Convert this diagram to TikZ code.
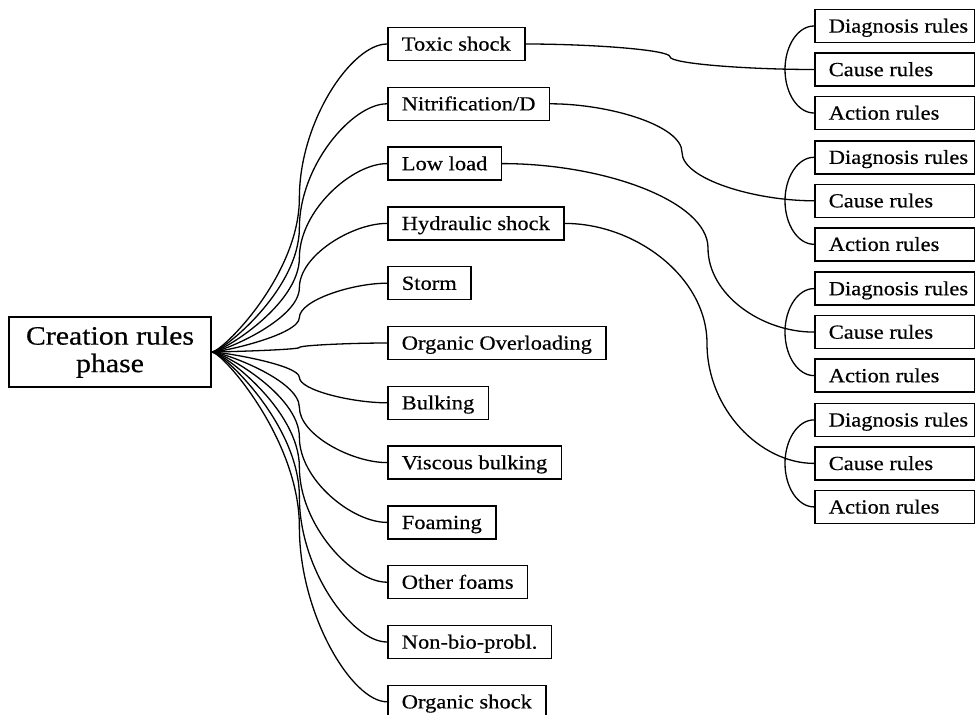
\documentclass[tikz,border=0pt]{standalone}
\usepackage{fontspec}
\setmainfont{Liberation Serif}[FakeStretch=1.125, FakeBold=0.5]
\usetikzlibrary{calc}

\tikzset{
  % quarter-elliptic piece: leaves the start horizontally, reaches the target vertically
  hv/.style n args={2}{to path={let \p1=(\tikztostart), \p2=(\tikztotarget) in
     .. controls ($(\p1)+({#1*(\x2-\x1)},0pt)$) and ($(\p2)+(0pt,{#2*(\y1-\y2)})$) .. (\p2)}},
  % quarter-elliptic piece: leaves the start vertically, reaches the target horizontally
  vh/.style n args={2}{to path={let \p1=(\tikztostart), \p2=(\tikztotarget) in
     .. controls ($(\p1)+(0pt,{#2*(\y2-\y1)})$) and ($(\p2)+({#1*(\x1-\x2)},0pt)$) .. (\p2)}},
  conn/.style={line width=1.3pt},
  rootbox/.style={draw, line width=1.5pt, minimum width=202pt, minimum height=70pt,
    inner sep=0pt, align=center, font=\fontsize{26.5}{27.5}\selectfont},
  midbox/.style={draw, line width=1.5pt, anchor=west, minimum height=33pt,
    inner xsep=14pt, inner ysep=0pt, text height=13.2pt, text depth=0pt,
    font=\fontsize{20}{24}\selectfont},
  rulebox/.style={midbox, minimum width=160pt},
}

\newcommand{\rulelabel}[1]{\makebox[132pt][l]{#1}}

\begin{document}
\begin{tikzpicture}[x=1pt,y=-1pt]
\useasboundingbox (0,0) rectangle (975,715);

% root
\node[rootbox] (root) at (110,352) {Creation rules\\phase};

% problem types
\foreach \t [count=\i] in {Toxic shock, Nitrification/D, Low load, Hydraulic shock,
    Storm, Organic Overloading, Bulking, Viscous bulking, Foaming, Other foams,
    Non-bio-probl., Organic shock}
  \node[midbox] (n\i) at (387,{44+59.8*(\i-1)}) {\t};

% rule groups
\foreach \g in {1,...,4} {
  \pgfmathsetmacro\cy{69.5+131.3*(\g-1)}
  \node[rulebox] (d\g) at (814,{\cy-43.5}) {\rulelabel{Diagnosis rules}};
  \node[rulebox] (c\g) at (814,\cy) {\rulelabel{Cause rules}};
  \node[rulebox] (a\g) at (814,{\cy+43.5}) {\rulelabel{Action rules}};
  \coordinate (b\g) at ($(c\g.west)+(-29,0)$);
  \draw[conn] (d\g.west) to[hv={0.552}{0.552}] (b\g) to[vh={0.552}{0.552}] (a\g.west);
}

% fan from the root to every problem type
\foreach \i in {1,...,12} {
  \coordinate (f\i) at ($(root.east)!0.5!(n\i.west)$);
  \draw[conn] (root.east) to[hv={0.12}{0.5}] (f\i) to[vh={0.4}{0.5}] (n\i.west);
}

% links from problem types to their cause rules
\coordinate (m1) at (670,56.8);
\coordinate (m2) at (682,152.3);
\coordinate (m3) at (708,248);
\coordinate (m4) at (707,343.4);
\draw[conn] (n1.east) to[hv={0.45}{0.55}] (m1) to[vh={0.45}{0.55}] (c1.west);
\draw[conn] (n2.east) to[hv={0.45}{0.55}] (m2) to[vh={0.45}{0.55}] (c2.west);
\draw[conn] (n3.east) to[hv={0.5}{0.55}] (m3) to[vh={0.5}{0.55}] (c3.west);
\draw[conn] (n4.east) to[hv={0.5}{0.55}] (m4) to[vh={0.5}{0.55}] (c4.west);
\end{tikzpicture}
\end{document}
